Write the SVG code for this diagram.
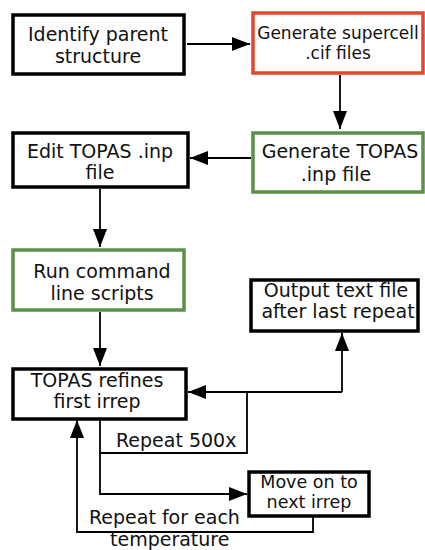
<svg xmlns="http://www.w3.org/2000/svg" width="425" height="550" viewBox="0 0 425 550">
<style>
  .box { fill: #ffffff; stroke: #000000; stroke-width: 3.5; }
  .red { fill: #ffffff; stroke: #e0472c; stroke-width: 3.5; }
  .green { fill: #ffffff; stroke: #5a9147; stroke-width: 3.5; }
  text { font-family: "DejaVu Sans", Verdana, sans-serif; font-size: 19px; fill: #111111; }
  .c { text-anchor: middle; }
  .small { font-size: 17px; }
  .mid { font-size: 17.5px; }
  .conn { fill: none; stroke: #000000; stroke-width: 1.8; }
</style>
<defs>
  <marker id="ah" viewBox="0 0 18 14" refX="18" refY="7" markerWidth="18" markerHeight="14" markerUnits="userSpaceOnUse" orient="auto">
    <path d="M0,0 L18,7 L0,14 z" fill="#000000"/>
  </marker>
</defs>

<g id="connectors">
  <line class="conn" x1="187" y1="44" x2="250" y2="44" marker-end="url(#ah)"/>
  <line class="conn" x1="340" y1="75" x2="340" y2="129" marker-end="url(#ah)"/>
  <line class="conn" x1="251" y1="158" x2="190" y2="158" marker-end="url(#ah)"/>
  <line class="conn" x1="100" y1="189" x2="100" y2="247" marker-end="url(#ah)"/>
  <line class="conn" x1="100" y1="312" x2="100" y2="366" marker-end="url(#ah)"/>
  <polyline class="conn" points="342,392 188,392" marker-end="url(#ah)"/>
  <polyline class="conn" points="342,392 342,333" marker-end="url(#ah)"/>
  <polyline class="conn" points="247,392 247,453 100,453"/>
  <polyline class="conn" points="100,420 100,494 247,494" marker-end="url(#ah)"/>
  <polyline class="conn" points="313,517 313,532 77,532 77,420" marker-end="url(#ah)"/>
  <text x="116" y="447">Repeat 500x</text>
  <text x="89" y="524">Repeat for each</text>
  <text x="110" y="546">temperature</text>
</g>

<g id="identify">
  <rect class="box" x="13" y="15" width="171" height="59"/>
  <text class="c" x="98" y="41">Identify parent</text>
  <text class="c" x="98" y="63">structure</text>
</g>
<g id="supercell">
  <rect class="red" x="253" y="13" width="170" height="60"/>
  <text class="c small" x="338" y="39">Generate supercell</text>
  <text class="c small" x="338" y="59">.cif  files</text>
</g>
<g id="gen-topas">
  <rect class="green" x="253" y="133" width="170" height="59"/>
  <text class="c" x="340" y="158">Generate TOPAS</text>
  <text class="c" x="336" y="181">.inp  file</text>
</g>
<g id="edit-topas">
  <rect class="box" x="13" y="133" width="175" height="54"/>
  <text class="c" x="100" y="158">Edit TOPAS .inp</text>
  <text class="c" x="100" y="179">file</text>
</g>
<g id="run-scripts">
  <rect class="green" x="13" y="250" width="171" height="60"/>
  <text class="c" x="102" y="278">Run command</text>
  <text class="c" x="102" y="300">line  scripts</text>
</g>
<g id="output">
  <rect class="box" x="251" y="280" width="167" height="51"/>
  <text class="c" x="336" y="297">Output text file</text>
  <text class="c" x="338" y="318">after last repeat</text>
</g>
<g id="refines">
  <rect class="box" x="13" y="369" width="173" height="50"/>
  <text class="c" x="97" y="387">TOPAS refines</text>
  <text class="c" x="97" y="408">first irrep</text>
</g>
<g id="next-irrep">
  <rect class="box" x="249" y="472" width="120" height="44"/>
  <text class="c mid" x="309" y="488">Move on to</text>
  <text class="c mid" x="309" y="508">next irrep</text>
</g>
</svg>
